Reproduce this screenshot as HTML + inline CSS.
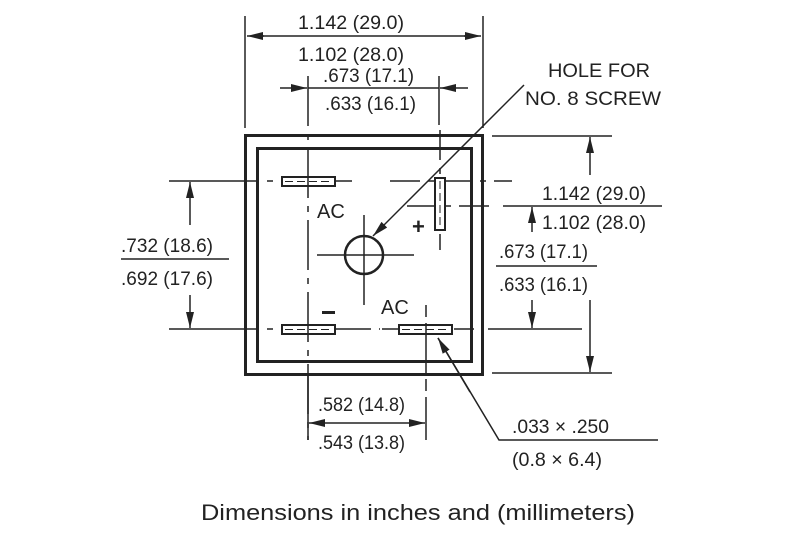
<!DOCTYPE html>
<html><head><style>
html,body{margin:0;padding:0;background:#fff;}
svg text{font-family:"Liberation Sans",sans-serif;fill:#222;}
</style></head><body>
<svg width="800" height="534" viewBox="0 0 800 534" xmlns="http://www.w3.org/2000/svg">
<defs>
<marker id="a" viewBox="0 0 16 8" refX="16" refY="4" markerWidth="16" markerHeight="8" markerUnits="userSpaceOnUse" orient="auto"><path d="M0,0L16,4L0,8z" fill="#222"/></marker>
</defs>
<g stroke="#222" fill="none">
<rect x="245.5" y="135.5" width="237" height="239" stroke-width="3"/>
<rect x="257.5" y="148.5" width="214" height="213" stroke-width="3"/>
<line x1="245" y1="16" x2="245" y2="128" stroke-width="1.5"/>
<line x1="483" y1="16" x2="483" y2="128" stroke-width="1.5"/>
<line x1="262" y1="36" x2="466" y2="36" stroke-width="1.5"/>
<line x1="264" y1="36" x2="247" y2="36" stroke-width="1.5" marker-end="url(#a)"/>
<line x1="464" y1="36" x2="481" y2="36" stroke-width="1.5" marker-end="url(#a)"/>
<line x1="308" y1="88" x2="439" y2="88" stroke-width="1.5"/>
<line x1="280" y1="88" x2="307" y2="88" stroke-width="1.5" marker-end="url(#a)"/>
<line x1="468" y1="88" x2="440" y2="88" stroke-width="1.5" marker-end="url(#a)"/>
<line x1="439" y1="76" x2="439" y2="125" stroke-width="1.5"/>
<line x1="308" y1="76" x2="308" y2="440" stroke-width="1.5" stroke-dasharray="50,8,6,8"/>
<line x1="440" y1="130" x2="440" y2="250" stroke-width="1.5" stroke-dasharray="30,8,6,8"/>
<line x1="426" y1="305" x2="426" y2="440" stroke-width="1.5" stroke-dasharray="12,6,50,6"/>
<line x1="169" y1="181" x2="352" y2="181" stroke-width="1.5" stroke-dasharray="90,8,6,8"/>
<line x1="390" y1="181" x2="512" y2="181" stroke-width="1.5" stroke-dasharray="30,8,6,8"/>
<line x1="407" y1="206" x2="493" y2="206" stroke-width="1.5" stroke-dasharray="30,8,6,8"/>
<line x1="169" y1="329" x2="380" y2="329" stroke-width="1.5" stroke-dasharray="90,8,6,8"/>
<line x1="382" y1="329" x2="480" y2="329" stroke-width="1.5" stroke-dasharray="20,6,40,6"/>
<line x1="488" y1="329" x2="582" y2="329" stroke-width="1.5"/>
<rect x="282" y="177" width="53" height="9" stroke-width="2" fill="#fff"/>
<rect x="282" y="325" width="53" height="9" stroke-width="2" fill="#fff"/>
<rect x="399" y="325" width="53" height="9" stroke-width="2" fill="#fff"/>
<rect x="435" y="178" width="10" height="52" stroke-width="2" fill="#fff"/>
<line x1="285" y1="181.5" x2="332" y2="181.5" stroke-width="1" stroke-dasharray="8,4"/>
<line x1="285" y1="329.5" x2="332" y2="329.5" stroke-width="1" stroke-dasharray="8,4"/>
<line x1="402" y1="329.5" x2="449" y2="329.5" stroke-width="1" stroke-dasharray="8,4"/>
<line x1="440" y1="181" x2="440" y2="227" stroke-width="1" stroke-dasharray="8,4"/>
<line x1="308" y1="177" x2="308" y2="186" stroke-width="1.5"/>
<line x1="308" y1="325" x2="308" y2="334" stroke-width="1.5"/>
<line x1="426" y1="325" x2="426" y2="334" stroke-width="1.5"/>
<circle cx="364" cy="255" r="19" stroke-width="2.5"/>
<line x1="317" y1="255" x2="414" y2="255" stroke-width="1.5"/>
<line x1="364" y1="215" x2="364" y2="305" stroke-width="1.5"/>
<line x1="524" y1="85" x2="373" y2="236" stroke-width="1.5" marker-end="url(#a)"/>
<line x1="492" y1="136" x2="612" y2="136" stroke-width="1.5"/>
<line x1="492" y1="373" x2="612" y2="373" stroke-width="1.5"/>
<line x1="590" y1="175" x2="590" y2="137" stroke-width="1.5" marker-end="url(#a)"/>
<line x1="590" y1="300" x2="590" y2="372" stroke-width="1.5" marker-end="url(#a)"/>
<line x1="503" y1="206" x2="662" y2="206" stroke-width="1.5"/>
<line x1="532" y1="232" x2="532" y2="207" stroke-width="1.5" marker-end="url(#a)"/>
<line x1="496" y1="266" x2="597" y2="266" stroke-width="1.5"/>
<line x1="532" y1="300" x2="532" y2="328" stroke-width="1.5" marker-end="url(#a)"/>
<line x1="190" y1="225" x2="190" y2="182" stroke-width="1.5" marker-end="url(#a)"/>
<line x1="190" y1="295" x2="190" y2="328" stroke-width="1.5" marker-end="url(#a)"/>
<line x1="121" y1="259" x2="229" y2="259" stroke-width="1.5"/>
<line x1="308" y1="375" x2="308" y2="440" stroke-width="1.5"/>
<line x1="330" y1="423" x2="404" y2="423" stroke-width="1.5"/>
<line x1="330" y1="423" x2="309" y2="423" stroke-width="1.5" marker-end="url(#a)"/>
<line x1="404" y1="423" x2="425" y2="423" stroke-width="1.5" marker-end="url(#a)"/>
<polyline points="658,440 499,440 438,338" stroke-width="1.5"/>
<line x1="470" y1="392" x2="438" y2="338" stroke-width="1.5" marker-end="url(#a)"/>
</g>
<g font-size="19">
<text x="298" y="29" textLength="106" lengthAdjust="spacingAndGlyphs">1.142 (29.0)</text>
<text x="298" y="61" textLength="106" lengthAdjust="spacingAndGlyphs">1.102 (28.0)</text>
<text x="323" y="82" textLength="91" lengthAdjust="spacingAndGlyphs">.673 (17.1)</text>
<text x="325" y="110" textLength="91" lengthAdjust="spacingAndGlyphs">.633 (16.1)</text>
<text x="548" y="77" textLength="102" lengthAdjust="spacingAndGlyphs">HOLE FOR</text>
<text x="525" y="105" textLength="136" lengthAdjust="spacingAndGlyphs">NO. 8 SCREW</text>
<text x="542" y="200" textLength="104" lengthAdjust="spacingAndGlyphs">1.142 (29.0)</text>
<text x="542" y="229" textLength="104" lengthAdjust="spacingAndGlyphs">1.102 (28.0)</text>
<text x="499" y="258" textLength="89" lengthAdjust="spacingAndGlyphs">.673 (17.1)</text>
<text x="499" y="291" textLength="89" lengthAdjust="spacingAndGlyphs">.633 (16.1)</text>
<text x="121" y="252" textLength="92" lengthAdjust="spacingAndGlyphs">.732 (18.6)</text>
<text x="121" y="285" textLength="92" lengthAdjust="spacingAndGlyphs">.692 (17.6)</text>
<text x="318" y="411" textLength="87" lengthAdjust="spacingAndGlyphs">.582 (14.8)</text>
<text x="318" y="449" textLength="87" lengthAdjust="spacingAndGlyphs">.543 (13.8)</text>
<text x="512" y="433" textLength="97" lengthAdjust="spacingAndGlyphs">.033 × .250</text>
<text x="512" y="466" textLength="90" lengthAdjust="spacingAndGlyphs">(0.8 × 6.4)</text>
<text x="317" y="218" font-size="20">AC</text>
<text x="381" y="314" font-size="20">AC</text>
<text x="412" y="234" font-size="22" font-weight="bold">+</text>
</g>
<rect x="322" y="311" width="13" height="3" fill="#222"/>
<text x="201" y="520" font-size="22" textLength="434" lengthAdjust="spacingAndGlyphs">Dimensions in inches and (millimeters)</text>
</svg>
</body></html>
